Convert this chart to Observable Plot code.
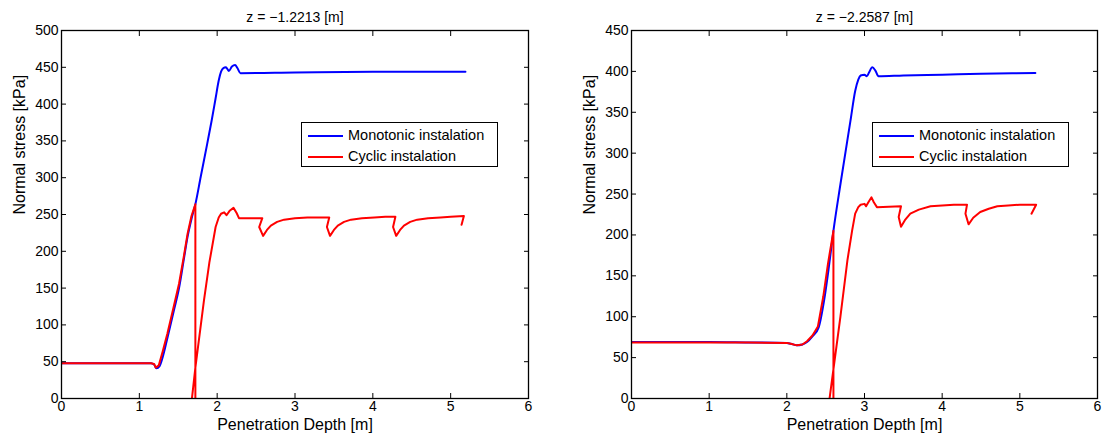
<!DOCTYPE html>
<html><head><meta charset="utf-8">
<script src="https://cdn.jsdelivr.net/npm/d3@7"></script>
<script src="https://cdn.jsdelivr.net/npm/@observablehq/plot@0.6"></script>
<style>
body{margin:0;background:#fff;font-family:"Liberation Sans",Arial,sans-serif;}
#wrap{position:relative;width:1103px;height:441px;display:flex;}
.legend{position:absolute;top:122px;width:195px;height:43px;border:1px solid #000;background:#fff;font-size:14.5px;color:#000;}
.row{position:absolute;left:0;height:17px;line-height:17px;white-space:nowrap;}
.row .ln{position:absolute;left:6px;top:8px;width:35px;height:0;border-top:2px solid;}
.row .tx{position:absolute;left:46px;top:0;}
</style></head>
<body>
<div id="wrap"></div>
<script>
// ---------- data ----------
const xTicks = [0, 1, 2, 3, 4, 5, 6];
const yTicksLeft = [0, 50, 100, 150, 200, 250, 300, 350, 400, 450, 500];
const yTicksRight = [0, 50, 100, 150, 200, 250, 300, 350, 400, 450];
const seriesNames = ["Monotonic instalation", "Cyclic instalation"];
const titles = ["z = \u22121.2213 [m]", "z = \u22122.2587 [m]"];

// left panel (z = -1.2213 m)
const monoX1 = [0, 0.5, 1.0, 1.15, 1.19, 1.22, 1.26, 1.31, 1.36, 1.44, 1.51, 1.57, 1.62, 1.67, 1.72, 1.79, 1.87, 1.93, 1.98, 2.02, 2.05, 2.08, 2.11, 2.13, 2.15, 2.19, 2.23, 2.26, 2.30, 3.0, 4.0, 5.19];
const monoY1 = [48, 48, 48, 48, 46, 41, 44, 60, 82, 118, 150, 188, 220, 244, 264, 302, 345, 378, 408, 432, 444, 449, 450, 448, 445, 451, 453, 449, 442, 443, 444, 444];
const cycX1 = [0, 0.5, 1.0, 1.15, 1.19, 1.21, 1.25, 1.30, 1.36, 1.44, 1.51, 1.57, 1.62, 1.67, 1.72, 1.72, 1.66, 1.72, 1.83, 1.90, 1.98, 2.02, 2.05, 2.09, 2.12, 2.16, 2.21, 2.25, 2.28,
  2.58, 2.54, 2.59, 2.64, 2.69, 2.77, 2.86, 3.0, 3.16, 3.30, 3.44,
  3.41, 3.45, 3.50, 3.55, 3.63, 3.72, 3.86, 4.02, 4.16, 4.29,
  4.26, 4.30, 4.35, 4.40, 4.48, 4.57, 4.71, 4.87, 5.0, 5.17, 5.14];
const cycY1 = [48, 48, 48, 48, 47, 42, 45, 64, 88, 124, 156, 192, 224, 248, 264, -15, -15, 42, 133, 185, 233, 246, 251, 253, 249, 255, 259, 252, 245,
  245, 233, 221, 229, 235, 240, 243, 245, 246, 246, 246,
  233, 221, 229, 235, 240, 243, 245, 246, 247, 247,
  233, 221, 229, 235, 240, 243, 245, 246, 247, 248, 236];

// right panel (z = -2.2587 m)
const monoX2 = [0, 0.5, 1.0, 1.5, 2.0, 2.05, 2.13, 2.2, 2.26, 2.33, 2.41, 2.48, 2.54, 2.60, 2.69, 2.82, 2.88, 2.92, 2.95, 3.00, 3.03, 3.06, 3.10, 3.14, 3.18, 3.5, 4.0, 4.5, 5.20];
const monoY2 = [69, 69, 69, 68.5, 68, 67, 65, 66, 69, 76, 87, 120, 160, 205, 262, 340, 376, 390, 395, 396, 394, 399, 405, 401, 394, 395, 396, 397, 398];
const cycX2 = [0, 0.5, 1.0, 1.5, 2.0, 2.05, 2.13, 2.2, 2.26, 2.33, 2.40, 2.47, 2.53, 2.60, 2.60, 2.53, 2.55, 2.69, 2.78, 2.84, 2.88, 2.92, 2.95, 3.00, 3.02, 3.05, 3.09, 3.12, 3.16,
  3.47, 3.44, 3.47, 3.52, 3.59, 3.70, 3.85, 4.0, 4.15, 4.32,
  4.30, 4.34, 4.40, 4.49, 4.60, 4.71, 4.85, 5.0, 5.21, 5.15];
const cycY2 = [68.5, 68.5, 68.5, 68.5, 68, 67, 65, 66, 70, 77, 88, 125, 165, 205, -15, -15, 0, 100, 169, 205, 226, 234, 237, 238, 235, 240, 246, 240, 234,
  235, 222, 210, 218, 226, 231, 235, 236, 237, 237,
  226, 213, 221, 228, 232, 235, 236, 237, 237, 226];

// ---------- drawing ----------
const font = "Liberation Sans, Arial, Helvetica, sans-serif";
const toRows = (xs, ys) => xs.map((x, i) => ({x, y: ys[i]}));

function panel({mx, my, cx, cy, ymax, yTicks, title, width, marginLeft, marginRight}) {
  return Plot.plot({
    width, height: 441,
    marginTop: 30, marginBottom: 43, marginLeft, marginRight,
    style: {fontFamily: font, fontSize: "14px", color: "#000", background: "#fff", overflow: "visible"},
    x: {domain: [0, 6]},
    y: {domain: [0, ymax]},
    marks: [
      Plot.line(toRows(mx, my), {x: "x", y: "y", stroke: "#0000ff", strokeWidth: 2, clip: true, curve: "monotone-x"}),
      Plot.line(toRows(cx, cy), {x: "x", y: "y", stroke: "#ff0000", strokeWidth: 2, clip: true}),
      Plot.frame({stroke: "#000", strokeWidth: 1.3}),
      Plot.axisX({ticks: xTicks, tickSize: -5, tickPadding: 8, tickFormat: d => String(d), label: null, fontSize: 14}),
      Plot.axisX({anchor: "top", ticks: xTicks, tickSize: -5, tickFormat: () => "", label: null}),
      Plot.axisY({ticks: yTicks, tickSize: -5, tickPadding: 8, tickFormat: d => String(d), label: null, fontSize: 14}),
      Plot.axisY({anchor: "right", ticks: yTicks, tickSize: -5, tickFormat: () => "", label: null}),
      Plot.text([title], {frameAnchor: "top", dy: -18, text: d => d, fontSize: 14}),
      Plot.text(["Penetration Depth [m]"], {frameAnchor: "bottom", dy: 31, text: d => d, fontSize: 16}),
      Plot.text(["Normal stress [kPa]"], {frameAnchor: "left", dx: -42, rotate: -90, text: d => d, fontSize: 16})
    ]
  });
}

const wrap = document.getElementById("wrap");
wrap.appendChild(panel({mx: monoX1, my: monoY1, cx: cycX1, cy: cycY1, ymax: 500, yTicks: yTicksLeft, title: titles[0], width: 551, marginLeft: 61, marginRight: 23}));
wrap.appendChild(panel({mx: monoX2, my: monoY2, cx: cycX2, cy: cycY2, ymax: 450, yTicks: yTicksRight, title: titles[1], width: 552, marginLeft: 80, marginRight: 6}));

function legend(left) {
  const d = document.createElement("div");
  d.className = "legend";
  d.style.left = left + "px";
  const colors = ["#0000ff", "#ff0000"];
  seriesNames.forEach((name, i) => {
    const r = document.createElement("div");
    r.className = "row";
    r.style.top = (4 + i * 21) + "px";
    r.innerHTML = `<div class="ln" style="border-color:${colors[i]}"></div><div class="tx">${name}</div>`;
    d.appendChild(r);
  });
  wrap.appendChild(d);
}
legend(301);
legend(872);
</script>
</body></html>
